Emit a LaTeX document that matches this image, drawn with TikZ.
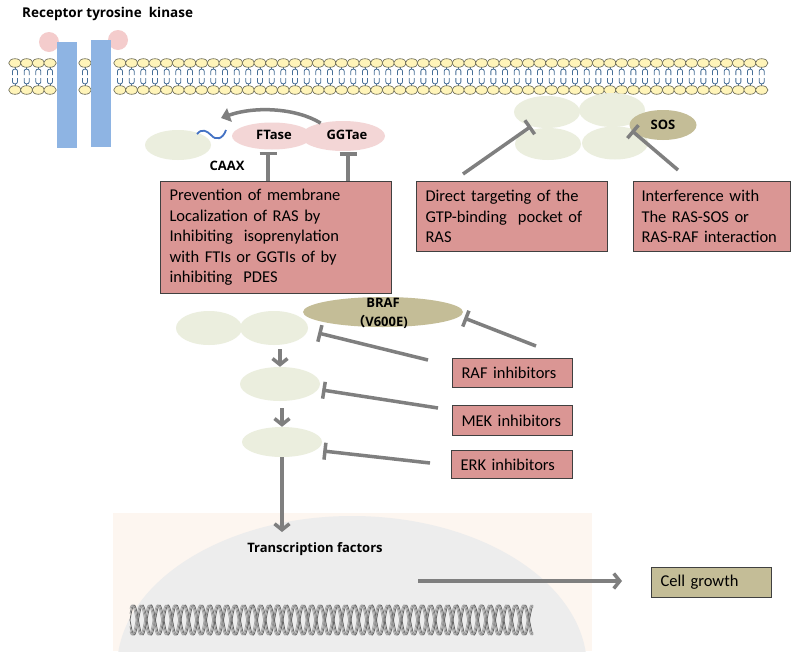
\documentclass[tikz,border=0pt]{standalone}
\usepackage{fontspec}
\setmainfont{Carlito}
\newfontfamily\labfont{Open Sans}
\newfontfamily\cjk{Noto Sans CJK SC}
\usetikzlibrary{arrows.meta,shapes.geometric,calc}
\definecolor{lgreen}{RGB}{235,238,222}
\definecolor{pinkc}{RGB}{243,214,214}
\definecolor{tanc}{RGB}{196,189,151}
\definecolor{boxred}{RGB}{218,150,148}
\definecolor{arrowgray}{RGB}{127,127,127}
\definecolor{recblue}{RGB}{142,180,227}
\definecolor{recpink}{RGB}{244,204,204}
\definecolor{headfill}{RGB}{255,244,185}
\definecolor{headline}{RGB}{100,100,80}
\definecolor{tailc}{RGB}{70,110,150}
\definecolor{domec}{RGB}{237,237,237}
\definecolor{peach}{RGB}{253,246,240}
\definecolor{boxline}{RGB}{64,64,64}
\definecolor{squig}{RGB}{68,114,196}
\begin{document}
\begin{tikzpicture}[x=1pt,y=-1pt,
  prot/.style={ellipse, fill=lgreen, inner sep=0pt},
  pinkprot/.style={ellipse, fill=pinkc, inner sep=0pt},
  tanprot/.style={ellipse, fill=tanc, inner sep=0pt},
  lab/.style={font=\labfont\bfseries\fontsize{13}{15}\selectfont, inner sep=0pt},
  rbox/.style={rectangle, draw=boxline, line width=1pt, fill=boxred, anchor=north west,
    align=left, inner xsep=9pt, inner ysep=0pt, font=\fontsize{16.5}{20.5}\selectfont},
  inhib/.style={draw=arrowgray, line width=3.5pt, -{Bar[width=17pt]}},
  arr/.style={draw=arrowgray, line width=3.5pt, -{Straight Barb[length=6pt,width=15pt]}},
  head/.style={fill=headfill, draw=headline, line width=0.6pt},
  tail/.style={draw=tailc, line width=0.8pt}
]
\useasboundingbox (0,0) rectangle (800,651);
\fill[white] (0,0) rectangle (800,651);

% nucleus
\fill[peach] (113,513) rectangle (592,651);
\begin{scope}
  \clip (113,513) rectangle (592,651);
  \fill[domec] (352,668) ellipse [x radius=235, y radius=152];
\end{scope}
% DNA helix
\foreach \ph/\c in {0/black!60, 25/black!45, 50/black!35, 180/black!60, 205/black!45, 230/black!35}
  \draw[\c, line width=0.8pt] plot[domain=130:533, samples=400, smooth]
    (\x, {620 + 15*sin((\x-130)*21.176 + \ph)});

% title
\node[lab, anchor=west, font=\labfont\bfseries\fontsize{13.5}{15}\selectfont] (title) at (22,14) {Receptor tyrosine\ \ kinase};

% membrane
\foreach \k in {0,1,2,3,6,9,10,...,64} {
  \pgfmathsetmacro\xx{15+11.667*\k}
  \draw[tail] (\xx,67) -- (\xx,69);
  \draw[tail] (\xx-2.5,75) -- (\xx-2.5,71) .. controls (\xx-2.5,68.5) and (\xx+2.5,68.5) .. (\xx+2.5,71) -- (\xx+2.5,75);
  \draw[tail] (\xx-2.5,78) -- (\xx-2.5,82) .. controls (\xx-2.5,84.5) and (\xx+2.5,84.5) .. (\xx+2.5,82) -- (\xx+2.5,78);
  \draw[tail] (\xx,84) -- (\xx,86);
  \draw[head] (\xx,63) ellipse [x radius=6.3, y radius=4.3];
  \draw[head] (\xx,90) ellipse [x radius=6.3, y radius=4.3];
}

% receptor
\fill[recpink] (49,42) circle [radius=10];
\fill[recpink] (118,40) circle [radius=10];
\fill[recblue] (57,42) rectangle (77,148);
\fill[recblue] (91,40) rectangle (111,147);

% RAS near membrane (left)
\node[prot, minimum width=66pt, minimum height=30pt] (ras) at (178,145) {};
\draw[squig, line width=1.8pt] (197,134) .. controls (202,128) and (207,131) .. (211,135) .. controls (216,141) and (223,139) .. (226,130);
\node[lab] (caax) at (227,166) {CAAX};
\node[pinkprot, minimum width=80pt, minimum height=27pt] (ftase) at (272,136) {};
\node[pinkprot, minimum width=84pt, minimum height=30pt] (ggtae) at (343,136) {};
\node[lab] (ftlab) at (274,135) {FTase};
\node[lab] (gglab) at (347,135) {GGTae};
\coordinate (curveend) at (221,118);
\draw[line width=3.5pt, arrowgray, -{Triangle[length=9pt,width=14pt]}] (ggtae.150) .. controls (296,108) and (255,106) .. (curveend);

% RAS cluster
\node[prot, minimum width=66pt, minimum height=32pt] (r1) at (547,112) {};
\node[prot, minimum width=66pt, minimum height=34pt] (r2) at (612,110) {};
\node[prot, minimum width=66pt, minimum height=32pt] (r3) at (548,144) {};
\node[prot, minimum width=66pt, minimum height=33pt] (r4) at (615,143) {};
\node[tanprot, minimum width=67pt, minimum height=30pt, lab] (sos) at (663,125) {SOS};

% boxes
\node[rbox, minimum width=231pt, minimum height=112pt, text width=213pt] (box1) at (160,181)
  {Prevention of membrane\\Localization of RAS by\\Inhibiting\ \ isoprenylation\\with FTIs or GGTIs of by\\inhibiting\ \ PDES};
\node[rbox, minimum width=191pt, minimum height=70pt, text width=173pt] (box2) at (416,181)
  {Direct targeting of the\\GTP-binding\ \ pocket of\\RAS};
\node[rbox, minimum width=157pt, minimum height=70pt, text width=141pt, inner xsep=8pt] (box3) at (633,181)
  {Interference with\\The RAS-SOS or\\RAS-RAF interaction};

\draw[inhib] ($(ftase.south |- box1.north)+(-4,0)$) -- ($(ftase.south)+(-4,2)$);
\draw[inhib] ($(ggtae.south |- box1.north)+(5,0)$) -- ($(ggtae.south)+(5,1)$);
\coordinate (b2s) at (463,174);
\coordinate (b3s) at (678,170);
\draw[inhib] (b2s) -- (r1.222);
\draw[inhib] (b3s) -- (sos.190);

% RAF / MEK / ERK
\node[prot, minimum width=66pt, minimum height=34pt] (raf1) at (209,328) {};
\node[prot, minimum width=68pt, minimum height=34pt] (raf2) at (274,328) {};
\node[tanprot, minimum width=160pt, minimum height=30pt] (braf) at (383,312) {};
\node[lab] (braflab) at (383,303) {BRAF};
\node[lab] (v600) at (380,322) {{\cjk\bfseries （}V600E)};
\node[prot, minimum width=80pt, minimum height=34pt] (mek) at (280,384) {};
\node[prot, minimum width=80pt, minimum height=30pt] (erk) at (282,442) {};

\draw[arr, shorten <=4pt] (mek.north |- raf2.south) -- (mek.north);
\draw[arr, shorten <=7pt] (erk.north |- mek.south) -- (erk.north);

\node[rbox, minimum width=120pt, minimum height=29pt, text width=102pt] (rafbox) at (452,358) {RAF inhibitors};
\node[rbox, minimum width=120pt, minimum height=30pt, text width=102pt] (mekbox) at (452,405) {MEK inhibitors};
\node[rbox, minimum width=121pt, minimum height=28pt, text width=103pt] (erkbox) at (451,450) {ERK inhibitors};

\coordinate (ri1) at (536,346);
\coordinate (ri2) at (428,360);
\coordinate (mi) at (438,408);
\coordinate (ei) at (430,463);
\draw[inhib] (ri1) -- ($(braf.east)+(1,6)$);
\draw[inhib] (ri2) -- ($(raf2.east)+(10,5)$);
\draw[inhib] (mi) -- ($(mek.east)+(2,6)$);
\draw[inhib] (ei) -- ($(erk.east)+(1,9)$);

% nucleus arrows
\node[lab] (tf) at (315,549) {Transcription factors};
\coordinate (tftop) at (282,532);
\draw[arr] (erk.south) -- (tftop);
\node[rbox, fill=tanc, minimum width=120pt, minimum height=30pt, text width=102pt] (cell) at (651,567) {Cell growth};
\coordinate (tfarr) at (418,581);
\draw[arr, shorten >=29pt] (tfarr) -- (tfarr -| cell.west);
\end{tikzpicture}
\end{document}
